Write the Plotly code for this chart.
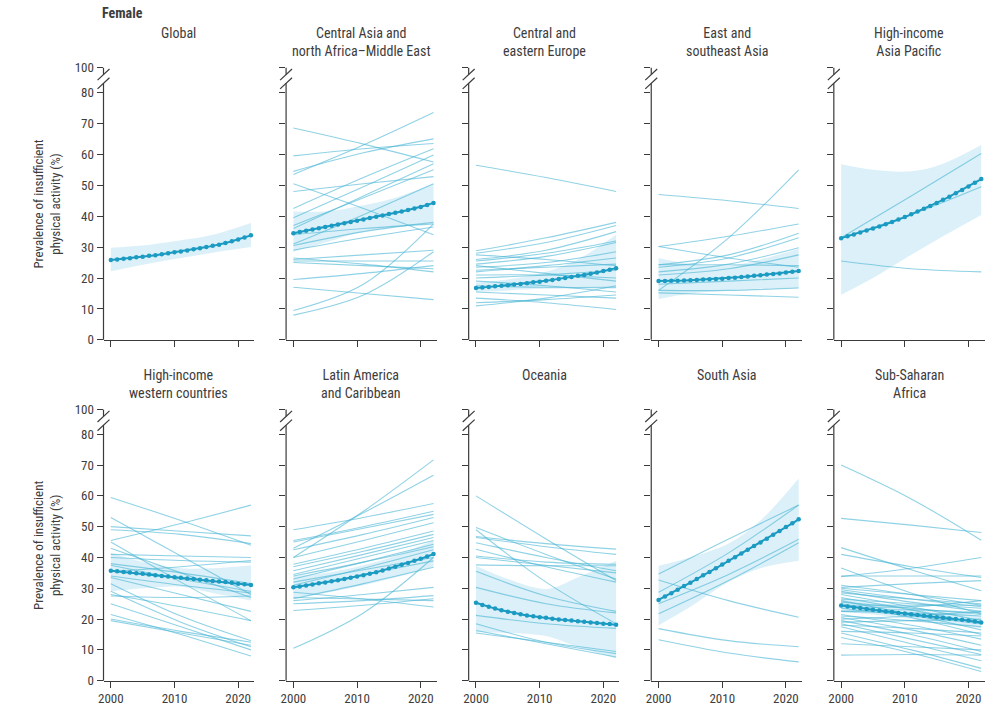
import plotly.graph_objects as go

# ---------------- data ----------------
YEARS = list(range(2000, 2023))
KNOTS = [2000, 2011, 2022]
BAND_YEARS = [2000, 2005, 2011, 2016, 2022]

X_TICKS = [2000, 2010, 2020]
X_TICK_LABELS = ["2000", "2010", "2020"]
Y_TICKS = [0, 10, 20, 30, 40, 50, 60, 70, 80]
Y_TICK_LABELS = ["0", "10", "20", "30", "40", "50", "60", "70", "80"]
Y_BREAK_LABEL = "100"

REGIONS = [
    "Global",
    "Central Asia and<br>north Africa–Middle East",
    "Central and<br>eastern Europe",
    "East and<br>southeast Asia",
    "High-income<br>Asia Pacific",
    "High-income<br>western countries",
    "Latin America<br>and Caribbean",
    "Oceania",
    "South Asia",
    "Sub-Saharan<br>Africa",
]

MEAN_GLOBAL = [25.8, 26.0, 26.2, 26.4, 26.7, 26.9, 27.2, 27.4, 27.7, 28.0, 28.3, 28.6,
               28.9, 29.3, 29.6, 30.0, 30.4, 30.8, 31.3, 31.9, 32.5, 33.1, 33.8]
MEAN_CANAME = [34.5, 34.9, 35.3, 35.7, 36.1, 36.5, 36.9, 37.3, 37.7, 38.1, 38.5, 38.9,
               39.4, 39.8, 40.2, 40.7, 41.1, 41.5, 42.0, 42.5, 43.0, 43.6, 44.3]
MEAN_CEE = [16.8, 16.9, 17.1, 17.3, 17.5, 17.7, 17.9, 18.1, 18.3, 18.6, 18.8, 19.1,
            19.4, 19.7, 20.0, 20.3, 20.7, 21.0, 21.4, 21.8, 22.3, 22.7, 23.2]
MEAN_ESEA = [19.0, 19.0, 19.1, 19.1, 19.2, 19.3, 19.4, 19.5, 19.6, 19.7, 19.8, 20.0,
             20.1, 20.3, 20.5, 20.7, 20.9, 21.1, 21.3, 21.5, 21.8, 22.0, 22.3]
MEAN_HIAP = [32.9, 33.5, 34.1, 34.7, 35.4, 36.0, 36.7, 37.4, 38.1, 38.9, 39.7, 40.6,
             41.5, 42.4, 43.3, 44.3, 45.3, 46.3, 47.4, 48.5, 49.6, 50.8, 52.0]
MEAN_HIWC = [35.7, 35.5, 35.3, 35.1, 34.9, 34.7, 34.5, 34.2, 34.0, 33.8, 33.6, 33.4,
             33.2, 33.0, 32.8, 32.6, 32.4, 32.2, 32.0, 31.8, 31.5, 31.3, 31.1]
MEAN_LAC = [30.3, 30.6, 30.9, 31.2, 31.6, 31.9, 32.3, 32.6, 33.0, 33.4, 33.8, 34.2,
            34.7, 35.2, 35.8, 36.4, 37.0, 37.6, 38.2, 38.9, 39.6, 40.3, 41.1]
MEAN_OCEANIA = [25.3, 24.6, 24.0, 23.4, 22.9, 22.4, 22.0, 21.6, 21.2, 20.9, 20.6, 20.4,
                20.1, 19.9, 19.7, 19.5, 19.3, 19.1, 18.9, 18.7, 18.5, 18.4, 18.2]
MEAN_SASIA = [26.2, 27.3, 28.4, 29.5, 30.7, 31.8, 33.0, 34.2, 35.3, 36.5, 37.7, 38.9,
              40.1, 41.3, 42.5, 43.7, 44.9, 46.1, 47.4, 48.6, 49.9, 51.1, 52.4]
MEAN_SSA = [24.4, 24.1, 23.8, 23.6, 23.3, 23.0, 22.8, 22.5, 22.3, 22.0, 21.8, 21.6,
            21.3, 21.1, 20.9, 20.6, 20.4, 20.2, 20.0, 19.8, 19.5, 19.2, 18.9]

LO_GLOBAL = [22.2, 24.3, 26.5, 28.2, 30.0]
HI_GLOBAL = [29.8, 30.5, 32.2, 34.0, 37.8]
LO_CANAME = [28.5, 31.5, 35.0, 36.5, 38.0]
HI_CANAME = [41.5, 41.5, 43.5, 46.0, 50.5]
LO_CEE = [15.5, 16.0, 16.5, 16.5, 16.5]
HI_CEE = [18.5, 19.5, 22.0, 26.0, 34.0]
LO_ESEA = [13.2, 15.0, 16.0, 16.5, 17.0]
HI_ESEA = [26.5, 24.5, 24.0, 26.0, 29.5]
LO_HIAP = [14.6, 20.0, 27.5, 33.5, 40.4]
HI_HIAP = [56.8, 55.0, 54.5, 57.0, 63.0]
LO_HIWC = [29.0, 30.0, 30.5, 28.5, 26.0]
HI_HIWC = [41.5, 38.5, 36.5, 36.5, 37.5]
LO_LAC = [27.0, 28.5, 31.0, 33.5, 37.0]
HI_LAC = [34.0, 35.0, 37.5, 40.5, 45.5]
LO_OCEANIA = [15.8, 15.5, 14.5, 11.0, 7.2]
HI_OCEANIA = [37.3, 33.0, 29.8, 33.5, 38.9]
LO_SASIA = [18.0, 24.0, 32.0, 36.5, 38.9]
HI_SASIA = [37.3, 40.0, 44.5, 52.0, 65.6]
LO_SSA = [22.3, 21.5, 20.0, 18.5, 17.0]
HI_SSA = [26.8, 25.5, 23.8, 22.5, 21.0]

# country trajectories: values at 2000, 2011, 2022
C_GLOBAL = []
C_CANAME = [
    (68.5, 63.3, 57.5), (59.5, 61.8, 63.5), (54.5, 60.5, 65.0), (53.5, 63.0, 73.5),
    (50.5, 42.5, 34.0), (48.0, 50.5, 52.8), (42.5, 52.5, 61.8), (39.5, 49.5, 59.8),
    (37.0, 46.0, 55.0), (36.0, 46.5, 57.0), (31.0, 40.5, 50.5), (30.5, 35.0, 38.0),
    (34.0, 36.0, 37.5), (26.0, 27.5, 29.0), (25.5, 25.5, 25.5), (25.0, 24.0, 23.0),
    (26.5, 24.5, 22.0), (19.5, 21.5, 24.0), (17.0, 15.0, 13.0), (9.5, 18.0, 37.5),
    (8.0, 14.5, 28.5), (29.0, 33.0, 36.5),
]
C_CEE = [
    (56.5, 52.5, 48.0), (28.8, 33.0, 38.0), (28.0, 31.5, 37.0), (26.0, 29.0, 35.0),
    (25.5, 28.0, 32.0), (24.5, 27.0, 31.5), (23.5, 25.0, 28.5), (22.5, 23.5, 24.5),
    (21.0, 21.0, 20.0), (19.0, 17.5, 15.5), (17.5, 17.0, 17.0), (15.5, 14.5, 13.5),
    (13.5, 12.0, 9.8), (11.0, 13.5, 17.5), (12.0, 13.0, 14.5), (27.5, 26.0, 24.0),
    (24.0, 21.5, 19.0), (22.0, 24.0, 26.5), (20.0, 21.0, 22.5),
]
C_ESEA = [
    (47.0, 45.0, 42.5), (30.2, 33.5, 37.5), (30.2, 26.5, 23.5), (16.0, 33.0, 55.0),
    (24.3, 27.5, 34.5), (23.5, 26.5, 33.0), (22.0, 24.5, 29.8), (21.0, 23.0, 27.5),
    (18.0, 19.0, 20.0), (16.0, 16.0, 16.8), (15.2, 14.5, 13.8), (24.3, 24.3, 24.0),
]
C_HIAP = [(25.5, 23.0, 22.0), (33.0, 46.5, 60.3), (33.0, 40.5, 49.5)]
C_HIWC = [
    (59.5, 52.0, 44.0), (53.0, 40.5, 28.0), (50.0, 48.5, 47.0), (49.0, 47.5, 44.5),
    (45.5, 51.0, 57.0), (45.0, 32.0, 19.5), (43.0, 35.0, 27.0), (41.0, 40.5, 40.0),
    (40.0, 39.0, 38.5), (38.0, 35.0, 31.5), (35.5, 37.0, 39.0), (33.5, 28.0, 22.5),
    (31.5, 21.0, 13.0), (29.0, 19.0, 11.0), (27.5, 27.0, 27.5), (25.0, 17.5, 10.0),
    (21.5, 15.0, 8.0), (20.0, 16.0, 12.5), (19.5, 15.5, 11.5), (28.0, 24.0, 19.5),
    (34.0, 31.0, 28.5), (37.5, 33.0, 29.0),
]
C_LAC = [
    (10.5, 22.0, 40.0), (40.0, 55.0, 71.7), (43.0, 54.5, 66.7), (49.0, 53.0, 57.5),
    (45.5, 50.0, 55.0), (45.0, 49.5, 54.0), (42.5, 47.5, 53.0), (40.0, 45.5, 51.3),
    (37.8, 43.0, 48.6), (37.0, 42.0, 47.5), (35.7, 41.0, 46.5), (34.5, 40.0, 45.5),
    (33.0, 38.5, 44.3), (31.0, 36.5, 42.5), (30.0, 34.5, 38.9), (26.6, 31.5, 36.8),
    (26.0, 28.0, 30.3), (25.0, 26.0, 27.6), (28.7, 26.5, 23.9), (22.8, 24.5, 26.6),
    (27.0, 26.5, 26.0), (32.0, 36.0, 40.0), (34.0, 38.5, 43.5),
]
C_OCEANIA = [
    (60.0, 46.0, 32.5), (49.7, 41.0, 33.0), (49.0, 32.0, 18.5), (46.8, 44.5, 42.7),
    (46.5, 43.5, 41.0), (44.8, 40.0, 35.7), (42.7, 37.0, 32.0), (40.5, 38.5, 37.8),
    (40.0, 37.5, 35.0), (37.6, 37.3, 37.3), (35.5, 27.5, 22.5), (30.3, 25.0, 22.0),
    (21.2, 18.5, 17.0), (18.5, 12.5, 8.8), (16.3, 12.0, 7.7), (15.5, 12.5, 9.5),
]
C_SASIA = [
    (34.6, 46.0, 57.0), (28.7, 41.5, 57.0), (32.7, 26.0, 20.6), (25.0, 34.5, 45.9),
    (21.7, 32.5, 44.8), (16.9, 13.0, 11.0), (13.3, 9.0, 6.1),
]
C_SSA = [
    (70.0, 59.0, 45.6), (52.7, 50.5, 48.1), (43.2, 36.0, 29.2), (41.0, 37.0, 33.5),
    (36.6, 28.5, 21.7), (33.8, 36.5, 40.0), (34.0, 34.0, 34.0), (30.3, 31.5, 32.5),
    (30.0, 28.0, 26.0), (29.5, 26.5, 24.0), (29.0, 25.5, 22.5), (28.0, 24.0, 19.5),
    (27.0, 23.0, 18.5), (26.0, 21.5, 16.5), (25.0, 20.5, 15.0), (22.5, 22.0, 21.0),
    (21.5, 18.0, 13.5), (20.5, 16.5, 11.5), (19.5, 15.0, 9.5), (18.5, 13.5, 8.5),
    (17.5, 12.0, 6.5), (15.5, 10.0, 4.0), (14.0, 9.0, 3.0), (12.0, 11.0, 10.0),
    (8.3, 8.5, 8.3), (24.5, 24.5, 24.5), (22.5, 23.0, 22.0), (19.0, 19.5, 20.0),
    (26.5, 25.0, 23.5), (23.5, 21.0, 18.5), (21.0, 19.5, 17.5), (25.5, 23.5, 21.5),
    (28.5, 26.5, 25.0), (18.0, 17.0, 15.5), (16.0, 15.5, 14.5), (31.0, 28.0, 24.5),
    (24.0, 24.0, 26.0), (20.0, 21.0, 22.5),
]

MEANS = [MEAN_GLOBAL, MEAN_CANAME, MEAN_CEE, MEAN_ESEA, MEAN_HIAP,
         MEAN_HIWC, MEAN_LAC, MEAN_OCEANIA, MEAN_SASIA, MEAN_SSA]
LOWS = [LO_GLOBAL, LO_CANAME, LO_CEE, LO_ESEA, LO_HIAP,
        LO_HIWC, LO_LAC, LO_OCEANIA, LO_SASIA, LO_SSA]
HIGHS = [HI_GLOBAL, HI_CANAME, HI_CEE, HI_ESEA, HI_HIAP,
         HI_HIWC, HI_LAC, HI_OCEANIA, HI_SASIA, HI_SSA]
COUNTRIES = [C_GLOBAL, C_CANAME, C_CEE, C_ESEA, C_HIAP,
             C_HIWC, C_LAC, C_OCEANIA, C_SASIA, C_SSA]

# ---------------- style / geometry ----------------
W, H = 997, 706
FONT = "Liberation Sans Narrow, Roboto Condensed, Arial Narrow, Roboto, sans-serif"
TXT = "#3d3d3d"
AX = "#3a3a3a"
LINE_C = "rgba(70,180,212,0.6)"
MEAN_C = "#1b9ac2"
BAND_C = "rgba(190,228,243,0.55)"

# vertical layout correction (the photographed page comes out slightly squeezed)
V_SCALE = 0.975
V_CENTER = 320.0


def vpos(y):
    return V_CENTER + (y - V_CENTER) / V_SCALE


COL_X = [99, 282.5, 466, 649.5, 833]   # pixel x of each y-axis
PANEL_W = 151.5
ROW_BOTTOM = [vpos(342), vpos(684)]    # pixel y of value 0
ROW_TOP = [vpos(69), vpos(412)]        # pixel y of the "100" tick
X_RANGE = [1998.85, 1998.85 + PANEL_W / 6.4]
Y_TOP_VALUE = 88.0                     # where the "100" tick sits on the broken axis


def px(x):
    return x / W


def py(y):
    return 1 - y / H


fig = go.Figure()
layout = {}
shapes = []
annotations = []

for i, name in enumerate(REGIONS):
    r, c = divmod(i, 5)
    k = i + 1
    xa = "x" if k == 1 else f"x{k}"
    ya = "y" if k == 1 else f"y{k}"
    x0 = COL_X[c]
    bot, top = ROW_BOTTOM[r], ROW_TOP[r]

    # band
    fig.add_trace(go.Scatter(x=BAND_YEARS, y=LOWS[i], mode="lines",
                             line=dict(width=0, shape="spline"), xaxis=xa, yaxis=ya,
                             showlegend=False, hoverinfo="skip"))
    fig.add_trace(go.Scatter(x=BAND_YEARS, y=HIGHS[i], mode="lines",
                             line=dict(width=0, shape="spline"), fill="tonexty",
                             fillcolor=BAND_C, xaxis=xa, yaxis=ya,
                             showlegend=False, hoverinfo="skip"))
    # countries
    for vals in COUNTRIES[i]:
        fig.add_trace(go.Scatter(x=KNOTS, y=list(vals), mode="lines",
                                 line=dict(color=LINE_C, width=1.1, shape="spline"),
                                 xaxis=xa, yaxis=ya, showlegend=False, hoverinfo="skip"))
    # regional mean
    fig.add_trace(go.Scatter(x=YEARS, y=MEANS[i], mode="lines+markers",
                             line=dict(color=MEAN_C, width=2),
                             marker=dict(color=MEAN_C, size=4.5),
                             xaxis=xa, yaxis=ya, showlegend=False))

    xkey = "xaxis" if k == 1 else f"xaxis{k}"
    ykey = "yaxis" if k == 1 else f"yaxis{k}"
    layout[xkey] = dict(
        domain=[px(x0), px(x0 + PANEL_W)], anchor=ya, range=X_RANGE,
        tickvals=X_TICKS, ticktext=X_TICK_LABELS, showticklabels=(r == 1),
        ticks="outside", ticklen=6, tickwidth=1.2, tickcolor=AX,
        showline=True, linecolor=AX, linewidth=1.2, showgrid=False, zeroline=False,
        tickfont=dict(family=FONT, size=13, color=TXT), fixedrange=True,
    )
    layout[ykey] = dict(
        domain=[py(bot), py(top)], anchor=xa, range=[0, Y_TOP_VALUE],
        tickvals=Y_TICKS + [Y_TOP_VALUE], ticktext=Y_TICK_LABELS + [Y_BREAK_LABEL],
        showticklabels=(c == 0), ticks="outside", ticklen=6, tickwidth=1.2,
        tickcolor=AX, showline=False, showgrid=False, zeroline=False,
        tickfont=dict(family=FONT, size=13, color=TXT), fixedrange=True,
    )

    # broken y-axis line
    line_style = dict(color=AX, width=1.2)
    shapes.append(dict(type="line", xref="paper", yref="paper",
                       x0=px(x0), x1=px(x0), y0=py(bot), y1=py(top + 16), line=line_style))
    shapes.append(dict(type="line", xref="paper", yref="paper",
                       x0=px(x0), x1=px(x0), y0=py(top + 7), y1=py(top), line=line_style))
    for off in (7, 16):
        shapes.append(dict(type="line", xref="paper", yref="paper",
                           x0=px(x0 - 6), x1=px(x0 + 6), y0=py(top + off + 5.75),
                           y1=py(top + off - 5.75), line=line_style))

    # panel title
    annotations.append(dict(text=name, xref="paper", yref="paper",
                            x=px(x0 + PANEL_W / 2), y=py(top - 46), xanchor="center",
                            yanchor="top", showarrow=False, align="center",
                            font=dict(family=FONT, size=14, color=TXT)))

    if c == 0:
        annotations.append(dict(text="Prevalence of insufficient<br>physical activity (%)",
                                xref="paper", yref="paper", x=px(42),
                                y=py((bot + top) / 2), xanchor="center", yanchor="middle",
                                textangle=-90, showarrow=False, align="center",
                                font=dict(family=FONT, size=13, color=TXT)))

annotations.append(dict(text="<b>Female</b>", xref="paper", yref="paper",
                        x=px(95), y=py(vpos(4)), xanchor="left", yanchor="top",
                        showarrow=False, font=dict(family=FONT, size=14, color=TXT)))

fig.update_layout(
    width=W, height=H, autosize=False,
    margin=dict(l=0, r=0, t=0, b=0),
    paper_bgcolor="white", plot_bgcolor="white",
    shapes=shapes, annotations=annotations, showlegend=False,
    **layout,
)

PIN_PAGE = (
    "document.documentElement.style.margin='0';"
    "document.documentElement.style.overflow='hidden';"
    "document.body.style.margin='0';document.body.style.padding='0';"
    "document.body.style.overflow='hidden';"
    "var d=document.getElementById('{plot_id}');"
    "d.style.position='fixed';d.style.left='0px';d.style.top='0px';"
)

fig.write_html("out.html", config={"displayModeBar": False}, post_script=PIN_PAGE)
